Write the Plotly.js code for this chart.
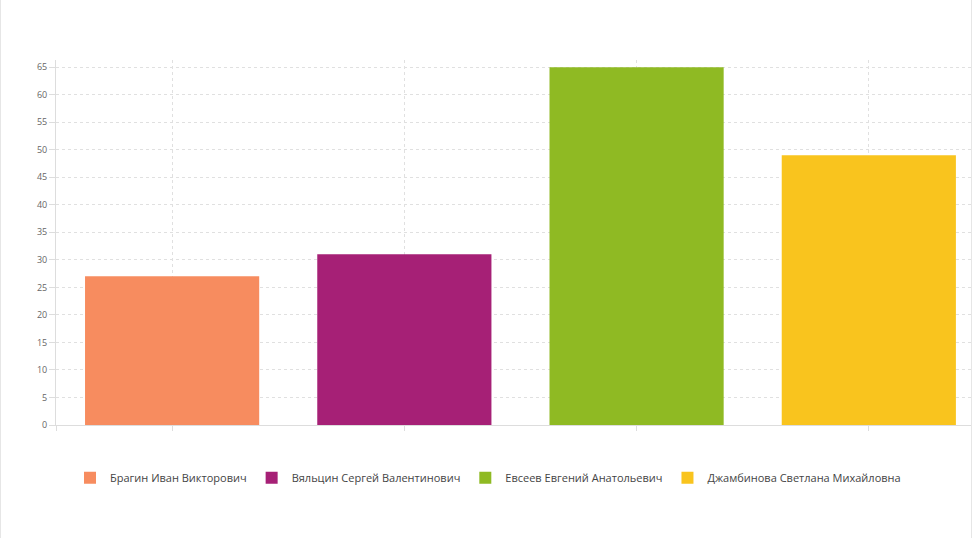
<!DOCTYPE html>
<html>
<head>
<meta charset="utf-8">
<script src="https://cdn.plot.ly/plotly-3.0.1.min.js"></script>
<style>
  html, body { margin: 0; padding: 0; background: #fff; }
  #chart { width: 972px; height: 538px; box-sizing: border-box; border-left: 1px solid #e6e6e6; border-right: 1px solid #e6e6e6; }
</style>
</head>
<body>
<div id="chart"></div>
<script>
const names = [
  "Брагин Иван Викторович",
  "Вяльцин Сергей Валентинович",
  "Евсеев Евгений Анатольевич",
  "Джамбинова Светлана Михайловна",
];
const values = [27, 31, 65, 49];
const colors = ["#f78c5f", "#a62076", "#8fba23", "#f9c41e"];
const yTicks = [0, 5, 10, 15, 20, 25, 30, 35, 40, 45, 50, 55, 60, 65];

const traces = names.map((name, i) => ({
  type: "bar",
  name: name,
  x: [i],
  y: [values[i]],
  width: 0.75,
  marker: { color: colors[i] },
  hoverinfo: "name+y",
}));

const xTickVals = [-0.5].concat(names.map((_, i) => i));

const layout = {
  width: 970,
  height: 538,
  margin: { l: 55, r: 0, t: 60, b: 113 },
  paper_bgcolor: "#fff",
  plot_bgcolor: "#fff",
  font: { family: "Open Sans, sans-serif", color: "#555", size: 11 },
  barmode: "overlay",
  showlegend: true,
  legend: {
    orientation: "h",
    x: 0.0153, xanchor: "left",
    y: -0.105, yanchor: "top",
    font: { size: 11, color: "#444" },
    itemwidth: 30,
    traceorder: "normal",
  },
  xaxis: {
    range: [-0.5, 3.44],
    tickmode: "array",
    tickvals: xTickVals,
    ticktext: xTickVals.map(() => ""),
    ticks: "outside",
    ticklen: 5,
    tickcolor: "#ddd",
    showline: true,
    linecolor: "#ddd",
    showgrid: true,
    gridcolor: "#e0e0e0",
    griddash: "3px,3px",
    zeroline: false,
    fixedrange: true,
  },
  yaxis: {
    range: [0, 66.3],
    tickmode: "array",
    tickvals: yTicks,
    ticks: "outside",
    ticklen: 6,
    tickcolor: "#ddd",
    showline: true,
    linecolor: "#ddd",
    showgrid: true,
    gridcolor: "#e0e0e0",
    griddash: "3px,3px",
    zeroline: false,
    tickfont: { size: 9, color: "#666" },
    fixedrange: true,
  },
};

Plotly.newPlot("chart", traces, layout, { displayModeBar: false });
</script>
</body>
</html>
